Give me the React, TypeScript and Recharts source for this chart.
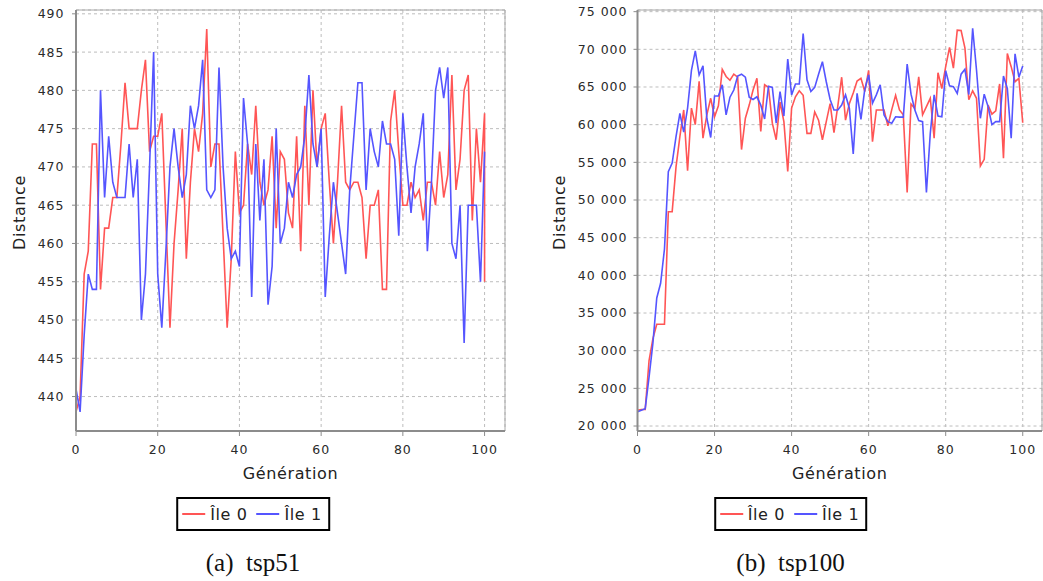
import {
  LineChart,
  Line,
  XAxis,
  YAxis,
  CartesianGrid,
  ReferenceArea,
} from "recharts";

// generation index 0..100
const gens = Array.from({ length: 101 }, (_, i) => i);
const xTicks = [0, 20, 40, 60, 80, 100];

// tsp51
const tsp51Ile0 = [
  438, 440, 456, 459, 473, 473, 454, 462, 462, 466,
  466, 473, 481, 475, 475, 475, 480, 484, 472, 474,
  474, 477, 463, 449, 460, 467, 475, 458, 468, 475,
  472, 477, 488, 470, 473, 473, 461, 449, 458, 472,
  464, 465, 473, 469, 478, 468, 465, 467, 474, 462,
  472, 471, 464, 462, 474, 459, 478, 465, 480, 470,
  475, 477, 468, 460, 468, 478, 468, 467, 468, 468,
  466, 458, 465, 465, 467, 454, 454, 476, 480, 472,
  465, 465, 468, 466, 467, 463, 468, 468, 465, 472,
  466, 469, 482, 467, 471, 480, 482, 463, 475, 468,
  477,
];
// last generation logged twice for island 0
const tsp51Ile0Last = 455;
const tsp51Ile1 = [
  441, 438, 448, 456, 454, 454, 480, 466, 474, 468,
  466, 466, 466, 473, 466, 471, 450, 456, 470, 485,
  456, 449, 459, 470, 475, 470, 466, 469, 478, 475,
  478, 484, 467, 466, 467, 483, 470, 462, 458, 459,
  457, 479, 473, 453, 473, 463, 471, 452, 457, 475,
  460, 462, 468, 466, 469, 470, 474, 482, 473, 470,
  475, 453, 461, 468, 464, 460, 456, 467, 474, 481,
  481, 467, 475, 472, 470, 476, 473, 473, 471, 461,
  477, 470, 464, 470, 473, 477, 459, 468, 480, 483,
  479, 483, 460, 458, 465, 447, 465, 465, 465, 455,
  472,
];
const tsp51Ticks = [440, 445, 450, 455, 460, 465, 470, 475, 480, 485, 490];

// tsp100
const tsp100Ile0 = [
  22100, 22200, 22200, 28700, 31600, 33500, 33500, 33500, 48450, 48450,
  54400, 58400, 61950, 53900, 62200, 60000, 65750, 58200, 61300, 63500,
  61050, 62500, 67350, 66400, 65900, 66700, 66300, 56700, 60850, 62600,
  64600, 66150, 59100, 65300, 64950, 60200, 58000, 63000, 60400, 53800,
  62200, 63700, 64500, 63900, 58850, 58850, 61700, 60600, 58000, 60400,
  62800, 58950, 62500, 66300, 60600, 62800, 64200, 65800, 66150, 64400,
  67200, 57750, 61950, 61950, 61950, 59850, 62000, 63900, 61950, 61300,
  51000, 62750, 62150, 66350, 61300, 62400, 63500, 58200, 66900, 64800,
  67700, 70250, 67500, 72550, 72500, 70150, 63300, 64500, 63500, 54500,
  55400, 62600, 61400, 61850, 65400, 55550, 69450, 67700, 65700, 66150,
  60250,
];
const tsp100Ile1 = [
  21900, 22100, 22300, 26500, 31000, 37000, 38950, 43500, 53750, 54900,
  58400, 61500, 59000, 62200, 67200, 69800, 66600, 67800, 60850, 58300,
  63800, 63800, 65300, 61300, 63650, 64600, 66450, 66700, 66300, 63650,
  63350, 63700, 62600, 60750, 65100, 64950, 60200, 64400, 61150, 68700,
  63950, 65400, 65400, 72100, 65950, 64400, 64950, 66700, 68350, 65700,
  63350, 61950, 61950, 62600, 63950, 62150, 56100, 64150, 60700, 64700,
  66600, 62850, 63950, 65300, 61300, 60400, 60200, 61050, 61000, 61000,
  68050, 64050, 61950, 60550, 60400, 51000, 58850, 63950, 61150, 61050,
  67150, 65150, 65050, 64150, 66700, 67350, 64000, 72800, 67250, 60850,
  64050, 62400, 60000, 60400, 60400, 66450, 64800, 58200, 69400, 66300,
  67800,
];
const tsp100Ticks = [
  20000, 25000, 30000, 35000, 40000, 45000, 50000, 55000, 60000, 65000,
  70000, 75000,
];

const RED = "#ff5555";
const BLUE = "#5555ff";
const FONT = "'DejaVu Sans', sans-serif";
const tickStyle = { fontSize: 12.5, fill: "#2a2a2a", letterSpacing: 1, fontFamily: FONT };

const spaced = (v: number) => String(v).replace(/\B(?=(\d{3})+(?!\d))/g, " ");

type Row = { g: number; ile0?: number; ile1?: number };

function buildRows(a: number[], b: number[], extra?: number): Row[] {
  const rows: Row[] = gens.map((g, i) => ({ g, ile0: a[i], ile1: b[i] }));
  if (extra !== undefined) rows.push({ g: 100, ile0: extra });
  return rows;
}

const titleStyle = { fontSize: 16, fill: "#222", letterSpacing: 0.6, fontFamily: FONT };

const yTitle = (p: any) => {
  const { x, y, height } = p.viewBox;
  const cx = x + 19;
  const cy = y + height / 2 - 8;
  return (
    <text x={cx} y={cy} transform={`rotate(-90 ${cx} ${cy})`} textAnchor="middle" dominantBaseline="central" style={titleStyle}>
      Distance
    </text>
  );
};

const xTitle = (p: any) => {
  const { x, y, width } = p.viewBox;
  return (
    <text x={x + width / 2} y={y + 42} textAnchor="middle" dominantBaseline="central" style={titleStyle}>
      Génération
    </text>
  );
};

interface PanelProps {
  left: number;
  width: number;
  yWidth: number;
  marginRight: number;
  tickMargin: number;
  rows: Row[];
  yDomain: [number, number];
  yTicks: number[];
  yFormat?: (v: number) => string;
  center: number;
  caption: string;
}

function Panel({ left, width, yWidth, marginRight, tickMargin, rows, yDomain, yTicks, yFormat, center, caption }: PanelProps) {
  return (
    <div style={{ position: "absolute", left, top: 0, width, height: 581 }}>
      <LineChart width={width} height={485} data={rows} margin={{ top: 10, right: marginRight, left: 0, bottom: 0 }}>
        <CartesianGrid stroke="#bdbdbd" strokeDasharray="3 3" />
        <ReferenceArea x1={0} x2={105} y1={yDomain[0]} y2={yDomain[1]} fill="none" stroke="#a8a8a8" strokeWidth={1} />
        <XAxis
          dataKey="g"
          type="number"
          domain={[0, 105]}
          ticks={xTicks}
          allowDataOverflow
          height={54}
          tickSize={5}
          tickMargin={9}
          tick={tickStyle}
          axisLine={{ stroke: "#8c8c8c", strokeWidth: 2 }}
          tickLine={{ stroke: "#8c8c8c" }}
          label={xTitle}
        />
        <YAxis
          type="number"
          domain={yDomain}
          ticks={yTicks}
          allowDataOverflow
          width={yWidth}
          tickSize={4}
          tickMargin={tickMargin}
          tick={tickStyle}
          tickFormatter={yFormat}
          axisLine={{ stroke: "#8c8c8c", strokeWidth: 2 }}
          tickLine={{ stroke: "#8c8c8c" }}
          label={yTitle}
        />
        <Line dataKey="ile0" stroke={RED} strokeWidth={1.6} dot={false} activeDot={false} isAnimationActive={false} />
        <Line dataKey="ile1" stroke={BLUE} strokeWidth={1.6} dot={false} activeDot={false} isAnimationActive={false} />
      </LineChart>
      <div
        style={{
          position: "absolute",
          left: center,
          top: 497,
          transform: "translateX(-50%)",
          boxSizing: "border-box",
          height: 34,
          border: "2px solid #000",
          display: "flex",
          alignItems: "center",
          padding: "0 6px 0 4px",
          fontFamily: FONT,
          fontSize: 16,
          letterSpacing: 0.6,
          color: "#222",
          whiteSpace: "nowrap",
        }}
      >
        <span style={{ display: "inline-block", width: 23, height: 1.6, background: RED, marginRight: 5 }} />
        <span>Île 0</span>
        <span style={{ display: "inline-block", width: 23, height: 1.6, background: BLUE, margin: "0 5px 0 9px" }} />
        <span>Île 1</span>
      </div>
      <div
        style={{
          position: "absolute",
          left: center,
          top: 548,
          transform: "translateX(-50%)",
          lineHeight: "30px",
          fontFamily: "'Liberation Serif', serif",
          fontSize: 25,
          color: "#111",
          whiteSpace: "pre",
        }}
      >
        {caption}
      </div>
    </div>
  );
}

export default function App() {
  return (
    <div style={{ position: "absolute", left: 0, top: 0, width: 1043, height: 581, background: "#fff" }}>
      <Panel
        left={0}
        width={520}
        yWidth={76}
        marginRight={15}
        tickMargin={7.5}
        rows={buildRows(tsp51Ile0, tsp51Ile1, tsp51Ile0Last)}
        yDomain={[435.5, 490.5]}
        yTicks={tsp51Ticks}
        center={253}
        caption={"(a)\u2002tsp51"}
      />
      <Panel
        left={540}
        width={503}
        yWidth={97.5}
        marginRight={1}
        tickMargin={6}
        rows={buildRows(tsp100Ile0, tsp100Ile1)}
        yDomain={[19340, 75220]}
        yTicks={tsp100Ticks}
        yFormat={spaced}
        center={250.5}
        caption={"(b)\u2002tsp100"}
      />
    </div>
  );
}
